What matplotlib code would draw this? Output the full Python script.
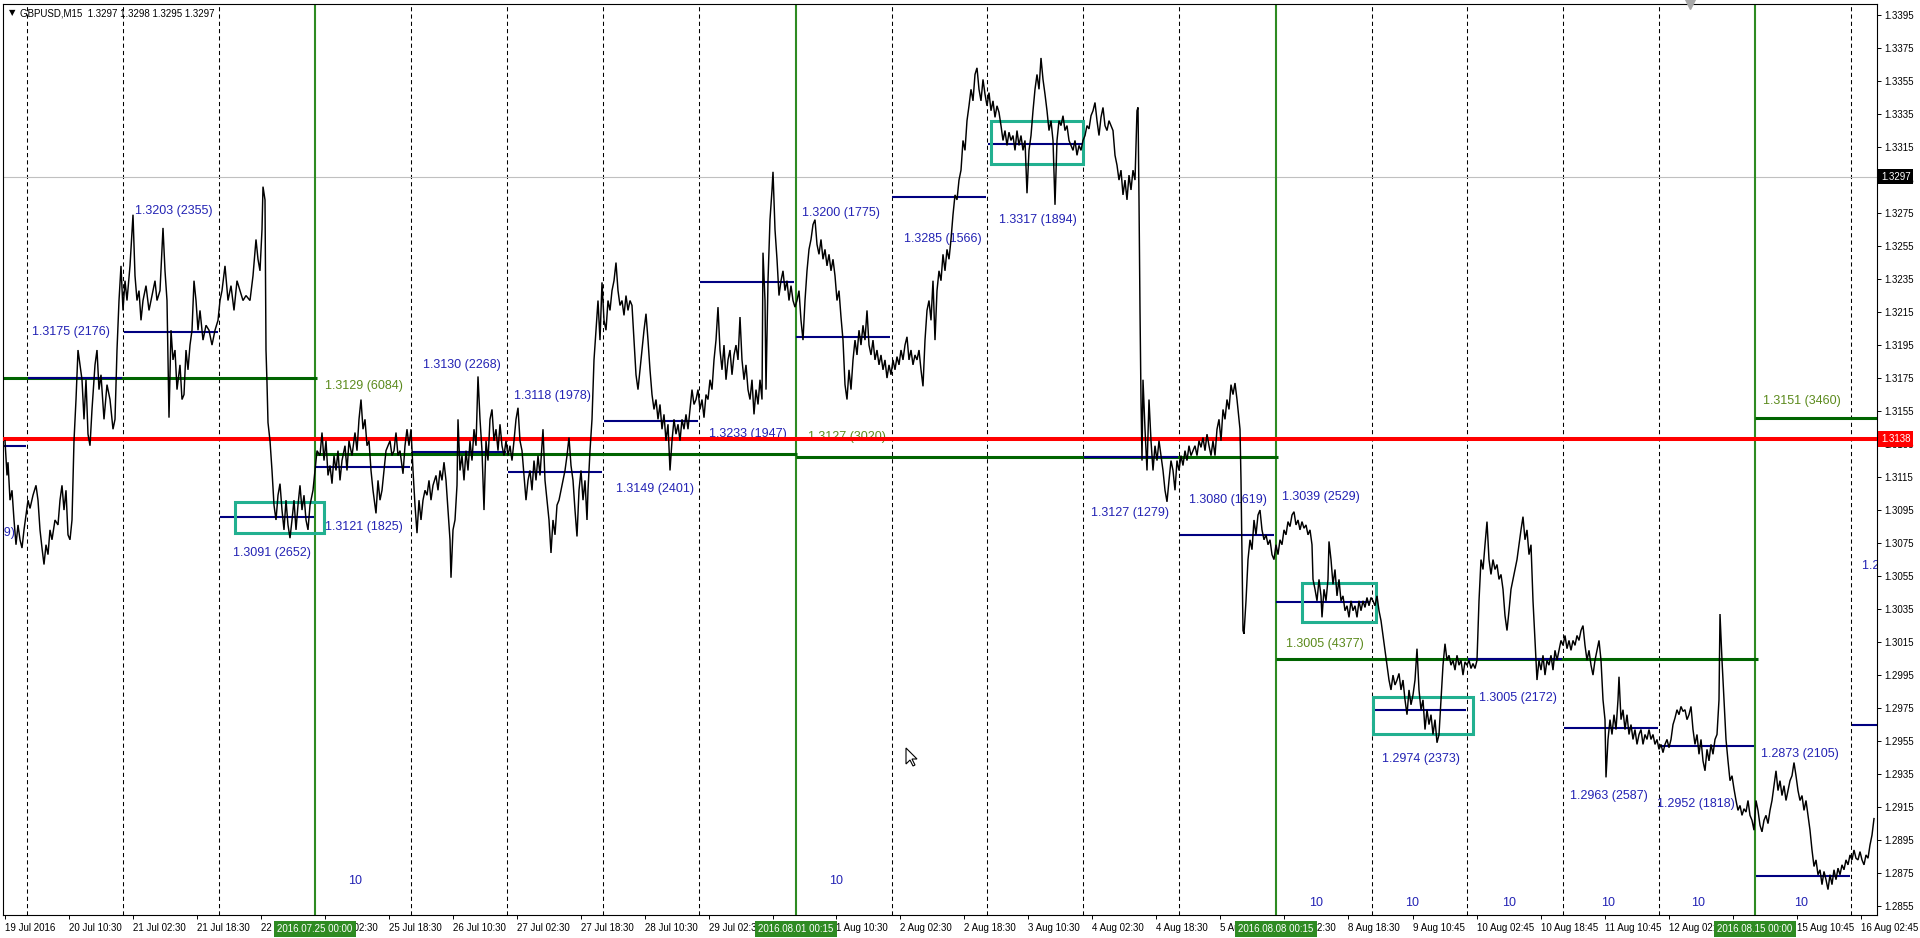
import matplotlib
matplotlib.use("Agg")
import matplotlib.pyplot as plt
from matplotlib.patches import Rectangle, Polygon

plt.rcParams['font.family'] = ['Liberation Sans', 'DejaVu Sans']

# ---------------- DATA ----------------
# x = M15 bar index relative to 2016.07.25 00:00 (one bar per 15 minutes, weekends skipped)
seg_jul19_22 = [(-310,1.3137),(-308,1.3116),(-307,1.3124),(-305,1.3101),(-303,1.3107),(-301,1.3089),(-299,1.3074),(-297,1.3086),(-295,1.3077),(-293,1.3072),(-291,1.3083),(-289,1.3092),(-287,1.3101),(-285,1.3096),(-282,1.3104),(-279,1.3110),(-277,1.3101),(-275,1.3083),(-273,1.3072),(-271,1.3062),(-269,1.3074),(-267,1.3068),(-265,1.3083),(-263,1.3077),(-260,1.3089),(-257,1.3086),(-255,1.3101),(-253,1.3110),(-251,1.3095),(-249,1.3107),(-247,1.3080),(-245,1.3077),(-243,1.3089),(-241,1.3137),(-239,1.3162),(-237,1.3192),(-235,1.3183),(-233,1.3174),(-231,1.3150),(-229,1.3174),(-227,1.3141),(-225,1.3134),(-223,1.3156),(-220,1.3183),(-218,1.3192),(-216,1.3168),(-214,1.3177),(-211,1.3150),(-208,1.3171),(-205,1.3162),(-202,1.3144),(-200,1.3150),(-198,1.3192),(-196,1.3222),(-194,1.3243),(-192,1.3216),(-190,1.3234),(-188,1.3222),(-185,1.3243),(-182,1.3274),(-180,1.3237),(-178,1.3222),(-176,1.3228),(-174,1.3210),(-172,1.3222),(-169,1.3231),(-166,1.3216),(-163,1.3225),(-160,1.3234),(-158,1.3222),(-155,1.3228),(-152,1.3266),(-150,1.3240),(-148,1.3222),(-146,1.3151),(-144,1.3204),(-142,1.3186),(-140,1.3192),(-138,1.3168),(-135,1.3183),(-133,1.3162),(-131,1.3165),(-129,1.3192),(-127,1.3180),(-125,1.3195),(-123,1.3204),(-121,1.3234),(-119,1.3222),(-117,1.3204),(-115,1.3216),(-112,1.3198),(-109,1.3207),(-106,1.3204),(-103,1.3195),(-100,1.3204),(-97,1.3210),(-95,1.3222),(-93,1.3228),(-90,1.3243),(-87,1.3222),(-84,1.3231),(-81,1.3216),(-78,1.3234),(-75,1.3228),(-72,1.3222),(-69,1.3225),(-65,1.3222),(-62,1.3237),(-59,1.3259),(-57,1.3247),(-55,1.3240),(-53,1.3265),(-52,1.3291),(-50,1.3283),(-49,1.3192),(-48,1.3172),(-47,1.3148),(-45,1.3137),(-43,1.3119),(-41,1.3098),(-39,1.3089),(-37,1.3104),(-35,1.3111),(-33,1.3095),(-31,1.3083),(-29,1.3101),(-27,1.3086),(-25,1.3078),(-23,1.3089),(-21,1.3101),(-19,1.3083),(-17,1.3098),(-15,1.3110),(-13,1.3095),(-11,1.3104),(-9,1.3089),(-7,1.3083),(-5,1.3098),(-2,1.3107)]

seg_jul25_29 = [(0,1.3119),(2,1.3131),(5,1.3128),(7,1.3142),(9,1.3125),(11,1.3137),(13,1.3116),(15,1.3122),(17,1.3111),(19,1.3128),(21,1.3119),(23,1.3131),(25,1.3113),(27,1.3125),(30,1.3134),(32,1.3119),(34,1.3137),(37,1.3128),(40,1.3142),(42,1.3131),(44,1.3150),(46,1.3162),(48,1.3144),(50,1.3150),(52,1.3134),(54,1.3137),(56,1.3119),(58,1.3107),(61,1.3093),(63,1.3113),(65,1.3101),(67,1.3107),(69,1.3119),(71,1.3131),(73,1.3134),(75,1.3137),(77,1.3128),(79,1.3131),(81,1.3142),(83,1.3128),(85,1.3131),(88,1.3117),(90,1.3134),(92,1.3144),(94,1.3134),(96,1.3144),(98,1.3119),(100,1.3098),(102,1.3081),(104,1.3101),(106,1.3089),(108,1.3101),(110,1.3107),(112,1.3104),(114,1.3113),(116,1.3101),(118,1.3110),(121,1.3116),(123,1.3107),(125,1.3119),(127,1.3113),(129,1.3124),(131,1.3113),(133,1.3095),(135,1.3077),(136,1.3054),(138,1.3083),(140,1.3089),(142,1.3110),(143,1.3150),(145,1.3119),(147,1.3128),(149,1.3113),(151,1.3131),(153,1.3119),(155,1.3137),(157,1.3125),(159,1.3144),(161,1.3134),(163,1.3176),(165,1.3150),(167,1.3131),(169,1.3095),(171,1.3137),(173,1.3125),(175,1.3150),(177,1.3156),(179,1.3137),(181,1.3144),(183,1.3131),(185,1.3147),(187,1.3134),(189,1.3128),(191,1.3137),(193,1.3128),(195,1.3134),(197,1.3125),(199,1.3137),(201,1.3150),(203,1.3157),(205,1.3137),(207,1.3131),(209,1.3116),(211,1.3101),(213,1.3113),(215,1.3119),(217,1.3107),(219,1.3125),(221,1.3113),(223,1.3128),(225,1.3116),(228,1.3144),(230,1.3113),(232,1.3101),(234,1.3089),(236,1.3069),(238,1.3089),(240,1.3080),(242,1.3098),(244,1.3101),(246,1.3107),(248,1.3113),(250,1.3119),(252,1.3128),(254,1.3139),(256,1.3122),(258,1.3113),(260,1.3095),(262,1.3079),(264,1.3107),(266,1.3119),(268,1.3101),(270,1.3113),(272,1.3089),(273,1.3107),(275,1.3131),(277,1.3150),(279,1.3186),(281,1.3204),(283,1.3222),(285,1.3198),(287,1.3233),(289,1.3210),(291,1.3204),(293,1.3222),(295,1.3216),(297,1.3228),(299,1.3234),(301,1.3245),(303,1.3228),(305,1.3219),(307,1.3222),(309,1.3213),(311,1.3225),(313,1.3216),(315,1.3222),(317,1.3219),(319,1.3198),(321,1.3177),(323,1.3168),(325,1.3180),(327,1.3192),(329,1.3204),(331,1.3214),(333,1.3198),(335,1.3180),(337,1.3165),(339,1.3156),(341,1.3162),(343,1.3150),(345,1.3159),(347,1.3144),(349,1.3153),(351,1.3137),(353,1.3147),(355,1.3119),(357,1.3137),(359,1.3150),(361,1.3141),(363,1.3147),(365,1.3137),(367,1.3150),(369,1.3144),(371,1.3153),(373,1.3144),(375,1.3156),(377,1.3168),(379,1.3159),(381,1.3162),(383,1.3168),(385,1.3156),(387,1.3162),(389,1.3151),(391,1.3165),(393,1.3162),(395,1.3174),(397,1.3168),(399,1.3186),(401,1.3198),(403,1.3218),(405,1.3192),(407,1.3180),(409,1.3195),(411,1.3174),(413,1.3186),(415,1.3192),(417,1.3177),(419,1.3189),(421,1.3195),(423,1.3186),(425,1.3212),(427,1.3186),(429,1.3174),(431,1.3183),(433,1.3168),(435,1.3162),(437,1.3174),(439,1.3153),(441,1.3168),(443,1.3159),(445,1.3174),(447,1.3162),(448,1.3251),(450,1.3222),(451,1.3168),(453,1.3234),(455,1.3271),(457,1.3289),(458,1.3300),(460,1.3265),(462,1.3247),(464,1.3225),(466,1.3234),(468,1.3240),(470,1.3228),(472,1.3234),(474,1.3222),(476,1.3231),(478,1.3222),(480,1.3218)]

seg_aug01_05 = [(482,1.3222),(484,1.3228),(486,1.3210),(488,1.3198),(490,1.3222),(492,1.3240),(494,1.3253),(496,1.3259),(498,1.3268),(500,1.3271),(502,1.3256),(504,1.3250),(506,1.3259),(508,1.3247),(510,1.3253),(512,1.3243),(514,1.3250),(516,1.3240),(518,1.3247),(520,1.3237),(522,1.3222),(524,1.3228),(526,1.3212),(528,1.3198),(530,1.3171),(532,1.3162),(534,1.3180),(536,1.3168),(538,1.3186),(540,1.3198),(542,1.3189),(544,1.3204),(546,1.3195),(548,1.3207),(550,1.3198),(552,1.3216),(554,1.3195),(556,1.3189),(558,1.3198),(560,1.3186),(562,1.3192),(564,1.3183),(566,1.3189),(568,1.3180),(570,1.3186),(572,1.3175),(574,1.3183),(576,1.3177),(578,1.3186),(580,1.3180),(582,1.3188),(584,1.3183),(586,1.3192),(588,1.3186),(590,1.3195),(592,1.3200),(594,1.3186),(596,1.3192),(598,1.3183),(600,1.3189),(602,1.3186),(604,1.3192),(606,1.3180),(608,1.3170),(610,1.3198),(612,1.3216),(614,1.3222),(616,1.3210),(618,1.3234),(620,1.3198),(622,1.3228),(624,1.3240),(626,1.3234),(628,1.3250),(630,1.3240),(632,1.3253),(634,1.3247),(636,1.3259),(638,1.3274),(640,1.3286),(642,1.3283),(644,1.3295),(646,1.3301),(648,1.3319),(650,1.3313),(652,1.3331),(654,1.3340),(656,1.3350),(658,1.3343),(660,1.3359),(662,1.3363),(664,1.3350),(666,1.3343),(668,1.3356),(670,1.3347),(672,1.3340),(674,1.3348),(676,1.3337),(678,1.3343),(680,1.3333),(682,1.3340),(684,1.3336),(686,1.3328),(688,1.3319),(690,1.3325),(692,1.3316),(694,1.3324),(696,1.3319),(698,1.3322),(700,1.3313),(702,1.3325),(704,1.3316),(706,1.3322),(708,1.3313),(710,1.3319),(712,1.3287),(714,1.3313),(716,1.3322),(718,1.3337),(720,1.3350),(722,1.3359),(724,1.3350),(726,1.3369),(728,1.3356),(730,1.3347),(732,1.3337),(734,1.3325),(736,1.3331),(738,1.3319),(740,1.3280),(742,1.3319),(744,1.3331),(746,1.3328),(748,1.3334),(750,1.3325),(752,1.3328),(754,1.3319),(756,1.3316),(758,1.3313),(760,1.3319),(762,1.3310),(764,1.3316),(766,1.3313),(768,1.3319),(770,1.3322),(772,1.3328),(774,1.3326),(776,1.3334),(778,1.3337),(780,1.3342),(782,1.3331),(784,1.3322),(786,1.3333),(788,1.3339),(790,1.3328),(792,1.3325),(794,1.3331),(796,1.3328),(798,1.3325),(800,1.3310),(802,1.3304),(804,1.3295),(806,1.3301),(808,1.3286),(810,1.3295),(812,1.3283),(814,1.3298),(816,1.3289),(818,1.3301),(820,1.3295),(822,1.3337),(823,1.3339),(824,1.3283),(825,1.3216),(826,1.3162),(827,1.3125),(828,1.3174),(830,1.3144),(832,1.3119),(834,1.3162),(836,1.3137),(838,1.3119),(840,1.3134),(842,1.3125),(844,1.3137),(846,1.3128),(848,1.3119),(850,1.3107),(852,1.3100),(854,1.3113),(856,1.3125),(858,1.3119),(860,1.3107),(862,1.3125),(864,1.3119),(866,1.3128),(868,1.3122),(870,1.3131),(872,1.3125),(874,1.3134),(876,1.3128),(878,1.3131),(880,1.3134),(882,1.3128),(884,1.3137),(886,1.3133),(888,1.3139),(890,1.3131),(892,1.3141),(894,1.3134),(896,1.3128),(898,1.3137),(900,1.3128),(902,1.3144),(904,1.3150),(906,1.3137),(908,1.3156),(910,1.3150),(912,1.3162),(914,1.3156),(916,1.3171),(918,1.3165),(920,1.3172),(922,1.3162),(924,1.3150),(925,1.3144),(926,1.3113),(927,1.3065),(928,1.3022),(929,1.3020),(931,1.3040),(933,1.3065),(935,1.3077),(937,1.3071),(939,1.3089),(941,1.3080),(943,1.3092),(945,1.3095),(947,1.3083),(949,1.3077),(951,1.3080),(953,1.3074),(955,1.3077),(957,1.3068),(959,1.3065),(961,1.3074)]

seg_aug08_16 = [(963,1.3068),(965,1.3077),(967,1.3074),(969,1.3083),(971,1.3080),(973,1.3088),(975,1.3085),(977,1.3092),(979,1.3094),(981,1.3086),(983,1.3089),(985,1.3083),(987,1.3088),(989,1.3084),(991,1.3086),(993,1.3080),(995,1.3083),(997,1.3074),(998,1.3053),(1000,1.3047),(1002,1.3040),(1004,1.3053),(1006,1.3043),(1007,1.3030),(1009,1.3047),(1011,1.3040),(1013,1.3053),(1014,1.3076),(1016,1.3065),(1018,1.3050),(1020,1.3059),(1022,1.3043),(1024,1.3053),(1026,1.3040),(1028,1.3043),(1030,1.3034),(1032,1.3037),(1034,1.3030),(1036,1.3040),(1038,1.3034),(1040,1.3037),(1042,1.3030),(1044,1.3040),(1046,1.3034),(1048,1.3040),(1050,1.3036),(1052,1.3042),(1054,1.3037),(1056,1.3042),(1058,1.3040),(1060,1.3037),(1062,1.3043),(1064,1.3034),(1066,1.3028),(1068,1.3019),(1070,1.3010),(1072,1.3001),(1074,1.2992),(1076,1.2986),(1078,1.2995),(1080,1.2989),(1082,1.2992),(1084,1.2996),(1086,1.2986),(1088,1.2992),(1090,1.2980),(1092,1.2971),(1094,1.2986),(1096,1.2977),(1098,1.2983),(1100,1.2992),(1102,1.3011),(1104,1.2986),(1106,1.2974),(1108,1.2980),(1110,1.2962),(1112,1.2974),(1114,1.2965),(1116,1.2971),(1118,1.2959),(1120,1.2968),(1122,1.2954),(1124,1.2959),(1126,1.2980),(1128,1.3001),(1130,1.3014),(1132,1.3004),(1134,1.3007),(1136,1.3001),(1138,1.3004),(1140,1.2998),(1142,1.3007),(1144,1.3001),(1146,1.3004),(1148,1.2995),(1150,1.3003),(1152,1.3001),(1154,1.3004),(1156,1.2999),(1158,1.3002),(1160,1.2999),(1162,1.3004),(1164,1.3040),(1166,1.3065),(1168,1.3059),(1170,1.3074),(1172,1.3088),(1174,1.3065),(1176,1.3056),(1178,1.3065),(1180,1.3059),(1182,1.3062),(1184,1.3053),(1186,1.3056),(1188,1.3047),(1190,1.3031),(1192,1.3022),(1194,1.3034),(1196,1.3047),(1198,1.3053),(1200,1.3059),(1202,1.3065),(1204,1.3074),(1206,1.3083),(1208,1.3091),(1210,1.3077),(1212,1.3083),(1214,1.3068),(1216,1.3074),(1218,1.3040),(1220,1.3016),(1222,1.2992),(1224,1.3004),(1226,1.2998),(1228,1.3007),(1230,1.2995),(1232,1.3004),(1234,1.3001),(1236,1.3007),(1238,1.2998),(1240,1.3010),(1242,1.3004),(1244,1.3010),(1246,1.3016),(1248,1.3013),(1250,1.3019),(1252,1.3011),(1254,1.3016),(1256,1.3010),(1258,1.3016),(1260,1.3013),(1262,1.3019),(1264,1.3016),(1266,1.3022),(1268,1.3025),(1270,1.3013),(1272,1.3004),(1274,1.3010),(1276,1.3001),(1278,1.2995),(1280,1.3004),(1282,1.3010),(1284,1.3016),(1286,1.3004),(1288,1.2980),(1290,1.2968),(1291,1.2933),(1293,1.2956),(1295,1.2968),(1297,1.2959),(1299,1.2971),(1301,1.2962),(1303,1.2980),(1304,1.2994),(1306,1.2968),(1308,1.2974),(1310,1.2962),(1312,1.2971),(1314,1.2959),(1316,1.2965),(1318,1.2956),(1320,1.2962),(1322,1.2953),(1324,1.2959),(1326,1.2962),(1328,1.2953),(1330,1.2959),(1332,1.2956),(1334,1.2962),(1336,1.2956),(1338,1.2959),(1340,1.2953),(1342,1.2956),(1344,1.2950),(1346,1.2953),(1348,1.2948),(1350,1.2953),(1352,1.2956),(1354,1.2951),(1356,1.2956),(1358,1.2965),(1360,1.2969),(1362,1.2974),(1364,1.2971),(1366,1.2976),(1368,1.2973),(1370,1.2974),(1372,1.2968),(1374,1.2971),(1376,1.2976),(1378,1.2962),(1380,1.2953),(1382,1.2959),(1384,1.2947),(1386,1.2956),(1388,1.2943),(1390,1.2937),(1392,1.2950),(1394,1.2943),(1396,1.2953),(1398,1.2947),(1400,1.2956),(1402,1.2959),(1404,1.2980),(1405,1.3032),(1407,1.3004),(1409,1.2980),(1411,1.2956),(1413,1.2943),(1415,1.2931),(1417,1.2934),(1419,1.2926),(1421,1.2919),(1423,1.2913),(1425,1.2916),(1427,1.2910),(1429,1.2914),(1431,1.2912),(1433,1.2919),(1435,1.2910),(1437,1.2907),(1439,1.2901),(1441,1.2919),(1443,1.2913),(1445,1.2904),(1447,1.2900),(1449,1.2907),(1451,1.2910),(1453,1.2905),(1455,1.2913),(1457,1.2919),(1459,1.2928),(1461,1.2937),(1463,1.2925),(1465,1.2931),(1467,1.2922),(1469,1.2928),(1471,1.2919),(1473,1.2925),(1475,1.2931),(1477,1.2934),(1479,1.2942),(1481,1.2934),(1483,1.2925),(1485,1.2919),(1487,1.2922),(1489,1.2913),(1491,1.2919),(1493,1.2910),(1495,1.2901),(1497,1.2889),(1499,1.2879),(1501,1.2883),(1503,1.2874),(1505,1.2877),(1507,1.2868),(1509,1.2876),(1511,1.2871),(1513,1.2865),(1515,1.2874),(1517,1.2868),(1519,1.2877),(1521,1.2871),(1523,1.2878),(1525,1.2874),(1527,1.2880),(1529,1.2877),(1531,1.2883),(1533,1.2880),(1535,1.2886),(1537,1.2883),(1539,1.2889),(1541,1.2884),(1543,1.2883),(1545,1.2888),(1547,1.2883),(1549,1.2880),(1551,1.2886),(1553,1.2884),(1555,1.2892),(1557,1.2898),(1559,1.2908)]

# daily levels (blue) : day start bar, level
day_starts = [-384, -288, -192, -96, 0, 96, 192, 288, 384, 480, 576, 672, 768, 864,
              960, 1056, 1152, 1248, 1344, 1440, 1536]
day_levels = [1.3134, 1.3175, 1.3203, 1.3091, 1.3121, 1.3130, 1.3118, 1.3149, 1.3233, 1.3200,
              1.3285, 1.3317, 1.3127, 1.3080, 1.3039, 1.2974, 1.3005, 1.2963, 1.2952, 1.2873, 1.2965]

# weekly levels (dark green)
week_starts = [-480, 0, 481, 961, 1440]
week_levels = [1.3175, 1.3129, 1.3127, 1.3005, 1.3151]

# week separators (vertical green) and their labels
sep_bars = [0, 481, 961, 1440]
sep_labels = ["2016.07.25 00:00", "2016.08.01 00:15", "2016.08.08 00:15", "2016.08.15 00:00"]

# day grid (dashed)
grid_bars = [-288, -192, -96, 96, 192, 288, 384, 577, 672, 768, 864, 1057, 1152, 1248, 1344, 1536]

# teal boxes: start bar, end bar, low, high
box_x0 = [-80, 676, 987, 1058]
box_x1 = [9, 768, 1061, 1158]
box_lo = [1.3081, 1.3305, 1.3027, 1.2959]
box_hi = [1.3100, 1.3331, 1.3051, 1.2982]

red_level = 1.3138
bid_level = 1.3297

# annotation texts: text, bar, price
blue_labels = [("1.3134 (1729)", -300, 1.3081), ("1.3175 (2176)", -283, 1.3203),
               ("1.3203 (2355)", -180, 1.3276), ("1.3091 (2652)", -82, 1.3069),
               ("1.3121 (1825)", 10, 1.3085), ("1.3130 (2268)", 108, 1.3183),
               ("1.3118 (1978)", 199, 1.3164), ("1.3149 (2401)", 301, 1.3108),
               ("1.3233 (1947)", 394, 1.3141), ("1.3200 (1775)", 487, 1.3275),
               ("1.3285 (1566)", 589, 1.3259), ("1.3317 (1894)", 684, 1.3271),
               ("1.3127 (1279)", 776, 1.3093), ("1.3080 (1619)", 874, 1.3101),
               ("1.3039 (2529)", 967, 1.3103), ("1.2974 (2373)", 1067, 1.2944),
               ("1.3005 (2172)", 1164, 1.2981), ("1.2963 (2587)", 1255, 1.2922),
               ("1.2952 (1818)", 1342, 1.2917), ("1.2873 (2105)", 1446, 1.2947),
               ("1.2965 (1480)", 1547, 1.3061)]
green_labels = [("1.3129 (6084)", 10, 1.3170), ("1.3127 (3020)", 493, 1.3139),
                ("1.3005 (4377)", 971, 1.3014), ("1.3151 (3460)", 1448, 1.3161)]
count_bars = [40, 521, 1001, 1097, 1194, 1293, 1383, 1486]
count_prices = [1.2870, 1.2870, 1.2857, 1.2857, 1.2857, 1.2857, 1.2857, 1.2857]
count_text = "10"

price_ticks = [1.2855, 1.2875, 1.2895, 1.2915, 1.2935, 1.2955, 1.2975, 1.2995, 1.3015, 1.3035,
               1.3055, 1.3075, 1.3095, 1.3115, 1.3135, 1.3155, 1.3175, 1.3195, 1.3215, 1.3235,
               1.3255, 1.3275, 1.3295, 1.3315, 1.3335, 1.3355, 1.3375, 1.3395]
time_labels = ["19 Jul 2016", "20 Jul 10:30", "21 Jul 02:30", "21 Jul 18:30", "22 Jul 10:30",
               "25 Jul 02:30", "25 Jul 18:30", "26 Jul 10:30", "27 Jul 02:30", "27 Jul 18:30",
               "28 Jul 10:30", "29 Jul 02:30", "29 Jul 18:30", "1 Aug 10:30", "2 Aug 02:30",
               "2 Aug 18:30", "3 Aug 10:30", "4 Aug 02:30", "4 Aug 18:30", "5 Aug 10:30",
               "8 Aug 02:30", "8 Aug 18:30", "9 Aug 10:45", "10 Aug 02:45", "10 Aug 18:45",
               "11 Aug 10:45", "12 Aug 02:45", "12 Aug 18:45", "15 Aug 10:45", "16 Aug 02:45"]
time_bars = [-310, -246, -182, -118, -54, 10, 74, 138, 202, 266, 330, 394, 458, 521, 585,
             649, 713, 777, 841, 905, 969, 1033, 1098, 1162, 1226, 1290, 1354, 1418, 1482, 1546]

header = "GBPUSD,M15  1.3297 1.3298 1.3295 1.3297"

# ---------------- FIGURE ----------------
W, H = 1920, 938
fig = plt.figure(figsize=(W / 100, H / 100), dpi=100)
fig.patch.set_facecolor('white')
L, R, T, B = 3, 1877, 4, 915
ax = fig.add_axes([L / W, 1 - B / H, (R - L) / W, (B - T) / H])
ax.set_facecolor('white')
ax.set_xlim(-312, 1562)
ax.set_ylim(1.28496, 1.34017)

C_NAVY = '#000080'
C_DGREEN = '#006400'
C_VGREEN = '#2E8B22'
C_TEAL = '#22B090'
C_BLUE_TXT = '#2323B4'
C_GREEN_TXT = '#5B8A1C'

for gx in grid_bars:
    ax.axvline(gx, color='black', lw=0.75, dashes=(4, 3), zorder=1)
ax.axhline(bid_level, color='#C0C0C0', lw=0.8, zorder=1)
for sx in sep_bars:
    ax.axvline(sx, color=C_VGREEN, lw=1.5, zorder=1.6)

for ws, wl in zip(week_starts, week_levels):
    ax.hlines(wl, ws, ws + 482, color=C_DGREEN, lw=2.2, zorder=2)
for ds, dl in zip(day_starts, day_levels):
    ax.hlines(dl, ds + 1, ds + 95, color=C_NAVY, lw=1.5, zorder=2.2)

for txt, bx, py in blue_labels:
    ha = 'right' if txt.startswith("1.3134") else 'left'
    ax.text(bx, py, txt, color=C_BLUE_TXT, fontsize=9, ha=ha, va='center',
            zorder=2.8, clip_on=True)
for txt, bx, py in green_labels:
    ax.text(bx, py, txt, color=C_GREEN_TXT, fontsize=9, ha='left', va='center',
            zorder=2.8, clip_on=True)
for bx, py in zip(count_bars, count_prices):
    ax.text(bx, py, count_text, color=C_BLUE_TXT, fontsize=9, ha='center', va='center',
            zorder=2.8)

ax.axhline(red_level, color='#FF0000', lw=2.9, zorder=3)

for x0, x1, lo, hi in zip(box_x0, box_x1, box_lo, box_hi):
    ax.add_patch(Rectangle((x0, lo), x1 - x0, hi - lo, fill=False, ec=C_TEAL, lw=2.2, zorder=3.5))

bars, closes = [], []
for seg in (seg_jul19_22, seg_jul25_29, seg_aug01_05, seg_aug08_16):
    for b_, c_ in seg:
        bars.append(b_)
        closes.append(c_)
ax.plot(bars, closes, color='black', lw=1.05, zorder=4, solid_joinstyle='miter')

# axes, ticks
for sp in ax.spines.values():
    sp.set_color('black')
    sp.set_linewidth(0.8)
ax.yaxis.tick_right()
ax.set_yticks(price_ticks)
ax.set_yticklabels([f"{v:.4f}" for v in price_ticks])
ax.tick_params(axis='y', direction='out', length=3, width=0.7, pad=2, labelsize=7,
               colors='black')
ax.set_xticks(time_bars)
ax.set_xticklabels(time_labels)
for lbl in ax.get_xticklabels():
    lbl.set_horizontalalignment('left')
ax.tick_params(axis='x', direction='out', length=3, width=0.7, pad=3, labelsize=7,
               colors='black')

# right-axis price boxes
ytr = ax.get_yaxis_transform()
ax.text(1.0021, red_level, f"{red_level:.4f}", transform=ytr, color='white', fontsize=7,
        ha='left', va='center', zorder=10, clip_on=False,
        bbox=dict(boxstyle='square,pad=0.28', fc='#FF0000', ec='none'))
ax.text(1.0021, bid_level, f"{bid_level:.4f}", transform=ytr, color='white', fontsize=7,
        ha='left', va='center', zorder=10, clip_on=False,
        bbox=dict(boxstyle='square,pad=0.28', fc='black', ec='none'))

# week separator labels on time axis
xtr = ax.get_xaxis_transform()
for sx, sl in zip(sep_bars, sep_labels):
    ax.text(sx, -14 / 911, sl, transform=xtr, color='white', fontsize=7, ha='center',
            va='center', zorder=10, clip_on=False,
            bbox=dict(boxstyle='square,pad=0.3', fc=C_VGREEN, ec='none'))

# chart-shift marker
ax.plot([(1690 - L) / (R - L)], [1.0], marker='v', color='#A8A8A8', markersize=7,
        transform=ax.transAxes, clip_on=False, zorder=10)

# mouse pointer left on the screenshot
tip_x, tip_y = 906, 748
ptr = [(0, 0), (0, 16), (4, 12), (7, 18), (9, 17), (6, 11), (11, 11)]
fig.patches.append(Polygon([((tip_x + dx) / W, 1 - (tip_y + dy) / H) for dx, dy in ptr],
                           closed=True, fc='white', ec='black', lw=0.8,
                           transform=fig.transFigure, figure=fig, zorder=20))

# header
fig.text(9 / W, 1 - 13 / H, "\u25BC", fontsize=6, va='center', ha='left',
         family=['DejaVu Sans'], color='black')
fig.text(20 / W, 1 - 13 / H, header, fontsize=7, va='center', ha='left', color='black')

fig.savefig('out.png', dpi=100, facecolor='white')
